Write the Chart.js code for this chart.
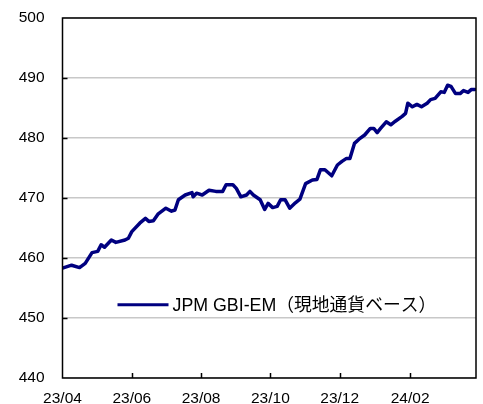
<!DOCTYPE html>
<html>
<head>
<meta charset="utf-8">
<script src="https://cdn.jsdelivr.net/npm/chart.js@4.4.0/dist/chart.umd.min.js"></script>
<style>
html,body{margin:0;padding:0;background:#fff;}
#wrap{width:483px;height:404px;position:relative;}
</style>
</head>
<body>
<div id="wrap"><canvas id="c" width="483" height="404"></canvas></div>
<script>
const seriesName = 'JPM GBI-EM（現地通貨ベース）';
const dates = [
'2023-04-01','2023-04-09','2023-04-16','2023-04-21','2023-04-27','2023-05-02','2023-05-05','2023-05-08','2023-05-14','2023-05-18',
'2023-05-26','2023-05-29','2023-06-01','2023-06-08','2023-06-13','2023-06-16','2023-06-20','2023-06-24','2023-07-01','2023-07-06',
'2023-07-09','2023-07-12','2023-07-18','2023-07-24','2023-07-25','2023-07-28','2023-08-02','2023-08-08','2023-08-14','2023-08-20',
'2023-08-23','2023-08-29','2023-09-01','2023-09-05','2023-09-10','2023-09-13','2023-09-16','2023-09-22','2023-09-26','2023-09-29',
'2023-10-03','2023-10-07','2023-10-10','2023-10-14','2023-10-18','2023-10-23','2023-10-27','2023-11-01','2023-11-07','2023-11-11',
'2023-11-14','2023-11-18','2023-11-24','2023-11-29','2023-12-03','2023-12-07','2023-12-10','2023-12-14','2023-12-18','2023-12-23',
'2023-12-28','2023-12-31','2024-01-03','2024-01-06','2024-01-11','2024-01-15','2024-01-19','2024-01-25','2024-01-28','2024-01-30',
'2024-02-03','2024-02-07','2024-02-11','2024-02-16','2024-02-19','2024-02-23','2024-02-28','2024-03-02','2024-03-05','2024-03-08',
'2024-03-12','2024-03-16','2024-03-19','2024-03-23','2024-03-26','2024-03-29'
];
const values = [
458.3,458.8,458.4,459.1,460.9,461.1,462.2,461.8,463.0,462.6,
463.0,463.3,464.4,465.8,466.6,466.1,466.2,467.3,468.3,467.8,
468.0,469.7,470.5,470.9,470.2,470.8,470.5,471.3,471.1,471.1,
472.2,472.2,471.6,470.2,470.5,471.1,470.5,469.7,468.1,469.1,
468.4,468.6,469.7,469.7,468.3,469.2,469.8,472.4,473.0,473.1,
474.7,474.7,473.7,475.5,476.1,476.6,476.6,479.1,479.8,480.5,
481.6,481.6,480.9,481.6,482.7,482.2,482.8,483.6,484.1,485.8,
485.2,485.6,485.2,485.8,486.4,486.6,487.7,487.6,488.8,488.6,
487.4,487.4,487.9,487.6,488.1,488.1
];
const tickDates = ['2023-04-01','2023-06-01','2023-08-01','2023-10-01','2023-12-01','2024-02-01'];
const tickLabels = ['23/04','23/06','23/08','23/10','23/12','24/02'];
const axisStart = '2023-04-01';
const axisEnd = '2024-03-30';
const yMin = 440, yMax = 500, yStep = 10;

const DAY = 86400000;
const t0 = Date.parse(axisStart + 'T00:00:00Z');
const dayOf = s => Math.round((Date.parse(s + 'T00:00:00Z') - t0) / DAY);
const tickDays = tickDates.map(dayOf);
const points = dates.map((d, i) => ({x: dayOf(d), y: values[i]}));

const FONT = '"Liberation Sans", Arial, "Noto Sans CJK JP", sans-serif';
const LINE = '#000080';

const framePlugin = {
  id: 'frame',
  afterDraw(chart) {
    const {ctx, chartArea: a, scales} = chart;
    ctx.save();
    ctx.strokeStyle = '#000';
    ctx.lineWidth = 1.5;
    ctx.strokeRect(a.left, a.top, a.right - a.left, a.bottom - a.top);
    ctx.beginPath();
    scales.y.ticks.forEach(t => {
      if (t.value <= yMin || t.value >= yMax) return;
      const y = Math.round(scales.y.getPixelForValue(t.value)) + 0.5;
      ctx.moveTo(a.left, y); ctx.lineTo(a.left + 5, y);
    });
    scales.x.ticks.forEach(t => {
      if (t.value <= scales.x.min) return;
      const x = Math.round(scales.x.getPixelForValue(t.value)) + 0.5;
      ctx.moveTo(x, a.bottom); ctx.lineTo(x, a.bottom - 5);
    });
    ctx.stroke();
    // legend inside plot
    const ly = scales.y.getPixelForValue(452.2);
    const lx = a.left + 55;
    ctx.strokeStyle = LINE;
    ctx.lineWidth = 3;
    ctx.beginPath();
    ctx.moveTo(lx, ly); ctx.lineTo(lx + 51, ly);
    ctx.stroke();
    ctx.fillStyle = '#000';
    ctx.font = '17.8px ' + FONT;
    ctx.textBaseline = 'middle';
    ctx.textAlign = 'left';
    ctx.fillText(seriesName, lx + 55, ly + 1);
    ctx.restore();
  }
};

new Chart(document.getElementById('c'), {
  type: 'line',
  data: {
    datasets: [{
      label: seriesName,
      data: points,
      borderColor: LINE,
      backgroundColor: LINE,
      borderWidth: 3.5,
      pointRadius: 0,
      tension: 0,
      borderJoinStyle: 'round',
      borderCapStyle: 'round'
    }]
  },
  options: {
    responsive: false,
    animation: false,
    layout: {padding: {top: 18, right: 7, left: 0, bottom: 0}},
    plugins: {legend: {display: false}, tooltip: {enabled: false}},
    scales: {
      x: {
        type: 'linear',
        min: 0,
        max: dayOf(axisEnd),
        afterBuildTicks: s => { s.ticks = tickDays.map(v => ({value: v})); },
        afterFit: s => { s.height = 26; s.paddingLeft = 0; s.paddingRight = 0; },
        grid: {display: false, drawTicks: false},
        border: {display: false},
        ticks: {
          autoSkip: false,
          maxRotation: 0,
          padding: 11,
          color: '#000',
          font: {family: FONT, size: 15.5},
          callback: v => { const i = tickDays.indexOf(v); return i >= 0 ? tickLabels[i] : ''; }
        }
      },
      y: {
        min: yMin,
        max: yMax,
        afterFit: s => { s.width = 62.5; s.paddingTop = 0; s.paddingBottom = 0; },
        grid: {color: '#c8c8c8', lineWidth: 1.5, drawTicks: false},
        border: {display: false},
        ticks: {
          stepSize: yStep,
          padding: 18,
          color: '#000',
          font: {family: FONT, size: 15.5}
        }
      }
    }
  },
  plugins: [framePlugin]
});
</script>
</body>
</html>
